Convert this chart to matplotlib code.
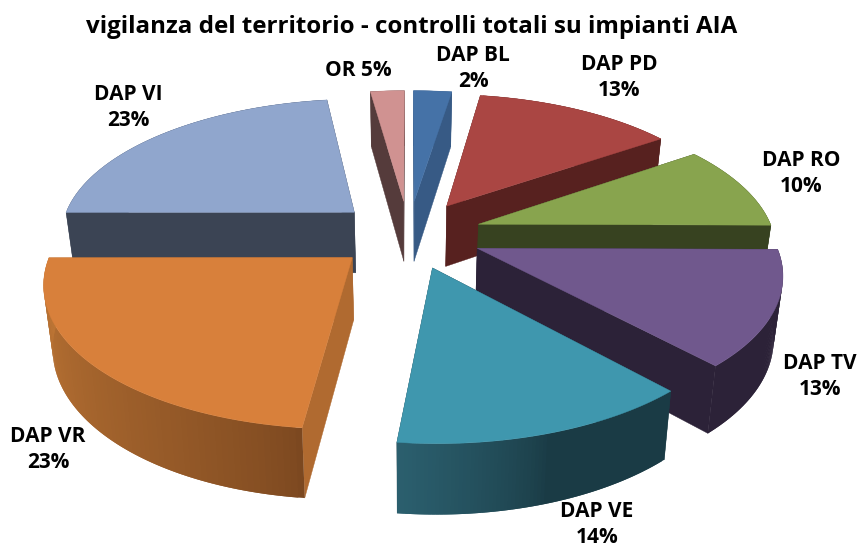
import numpy as np
import matplotlib
matplotlib.use('Agg')
from matplotlib import pyplot as plt
from matplotlib.colors import to_rgb

title = 'vigilanza del territorio - controlli totali su impianti AIA'
names = ['DAP BL', 'DAP PD', 'DAP RO', 'DAP TV', 'DAP VE', 'DAP VR', 'DAP VI', 'OR']
# share of each slice
shares = [2.47, 12.92, 9.72, 13.06, 13.58, 23.22, 22.83, 2.19]
# the percentages printed on the labels
label_pct = [2, 13, 10, 13, 14, 23, 23, 5]

top_colors = ['#4572A7', '#AA4643', '#88A44E', '#70588D', '#3F97AE', '#D8803B', '#90A6CD', '#D09291']
face_colors = ['#375A85', '#57211F', '#374220', '#2C2238', '#1B3D47', '#B06A30', '#3B4454', '#553B3B']
# outer wall colour at the start and the end of each slice
wall_colors = [('#375A85', '#375A85'), ('#57211F', '#57211F'), ('#374220', '#374220'),
               ('#2C2238', '#2C2238'), ('#1A3B45', '#2B5F6E'), ('#7C4820', '#BE7635'),
               ('#3B4454', '#3B4454'), ('#553B3B', '#553B3B')]
# part of the wall that stays at the start colour before the shading begins
wall_flat = [0, 0, 0, 0, 0.5, 0, 0, 0]
# back to front
draw_order = [0, 7, 1, 6, 2, 3, 5, 4]
label_pos = [(473, 53), (619, 62), (801, 158), (820, 361), (597, 509), (48, 434), (128, 92)]

# projection of the pie plane, fitted on the corners of the slices
CX, CY, SX, SY, PERSP, EXPLODE = 408.64, 234.19, 295.4, 136.97, 0.154, 0.25


def project(x, y):
    w = 1 + PERSP * y
    return CX + SX * x / w, CY - SY * y / w


def drop(px, py):
    # same point on the bottom of the slice
    return px - 0.025 * (px - CX), py + 51 + 0.045 * py


def draw_slice(ax, t0, t1, top, face, wall, flat):
    mid = (t0 + t1) / 2
    ox, oy = EXPLODE * np.sin(mid), EXPLODE * np.cos(mid)
    ts = np.linspace(t0, t1, 80)
    ax_, ay_ = project(ox, oy)
    px, py = project(ox + np.sin(ts), oy + np.cos(ts))
    bx, by = drop(px, py)
    bax, bay = drop(ax_, ay_)

    # the two straight walls
    for i in (0, -1):
        ax.fill([ax_, px[i], bx[i], bax], [ay_, py[i], by[i], bay],
                color=face, lw=0.3, zorder=1)

    # outer wall, the strips overlap so no seams show between them
    c0, c1 = np.array(to_rgb(wall[0])), np.array(to_rgb(wall[1]))
    n = len(ts)
    for i in range(n - 1):
        j = min(i + 2, n - 1)
        f = max(0, (i / (n - 2) - flat) / (1 - flat)) ** 0.75
        xs = np.r_[px[i:j + 1], bx[i:j + 1][::-1]]
        ys = np.r_[py[i:j + 1], by[i:j + 1][::-1]]
        ax.fill(xs, ys, color=c0 + (c1 - c0) * f, lw=0, zorder=1)

    ax.fill(np.r_[ax_, px], np.r_[ay_, py], color=top, lw=0.3, zorder=1)


plt.rcParams['font.family'] = ['Open Sans', 'DejaVu Sans']

fig = plt.figure(figsize=(8.58, 5.45), dpi=100)
ax = fig.add_axes([0, 0, 1, 1])
ax.set_xlim(0, 858)
ax.set_ylim(545, 0)
ax.axis('off')

edges = np.radians(np.r_[0, np.cumsum(shares)] / np.sum(shares) * 360)
for i in draw_order:
    draw_slice(ax, edges[i], edges[i + 1], top_colors[i], face_colors[i], wall_colors[i], wall_flat[i])

ax.text(412, 27, title, ha='center', va='center', fontsize=17.4, fontweight='bold')
for i, pos in enumerate(label_pos):
    ax.text(pos[0], pos[1] + 15.5, f'{names[i]}\n{label_pct[i]}%', ha='center', va='center',
            fontsize=15, fontweight='bold', linespacing=1.36)
ax.text(358, 71, f'{names[7]} {label_pct[7]}%', ha='center', va='center',
        fontsize=15, fontweight='bold')

fig.savefig('out.png', dpi=100)
